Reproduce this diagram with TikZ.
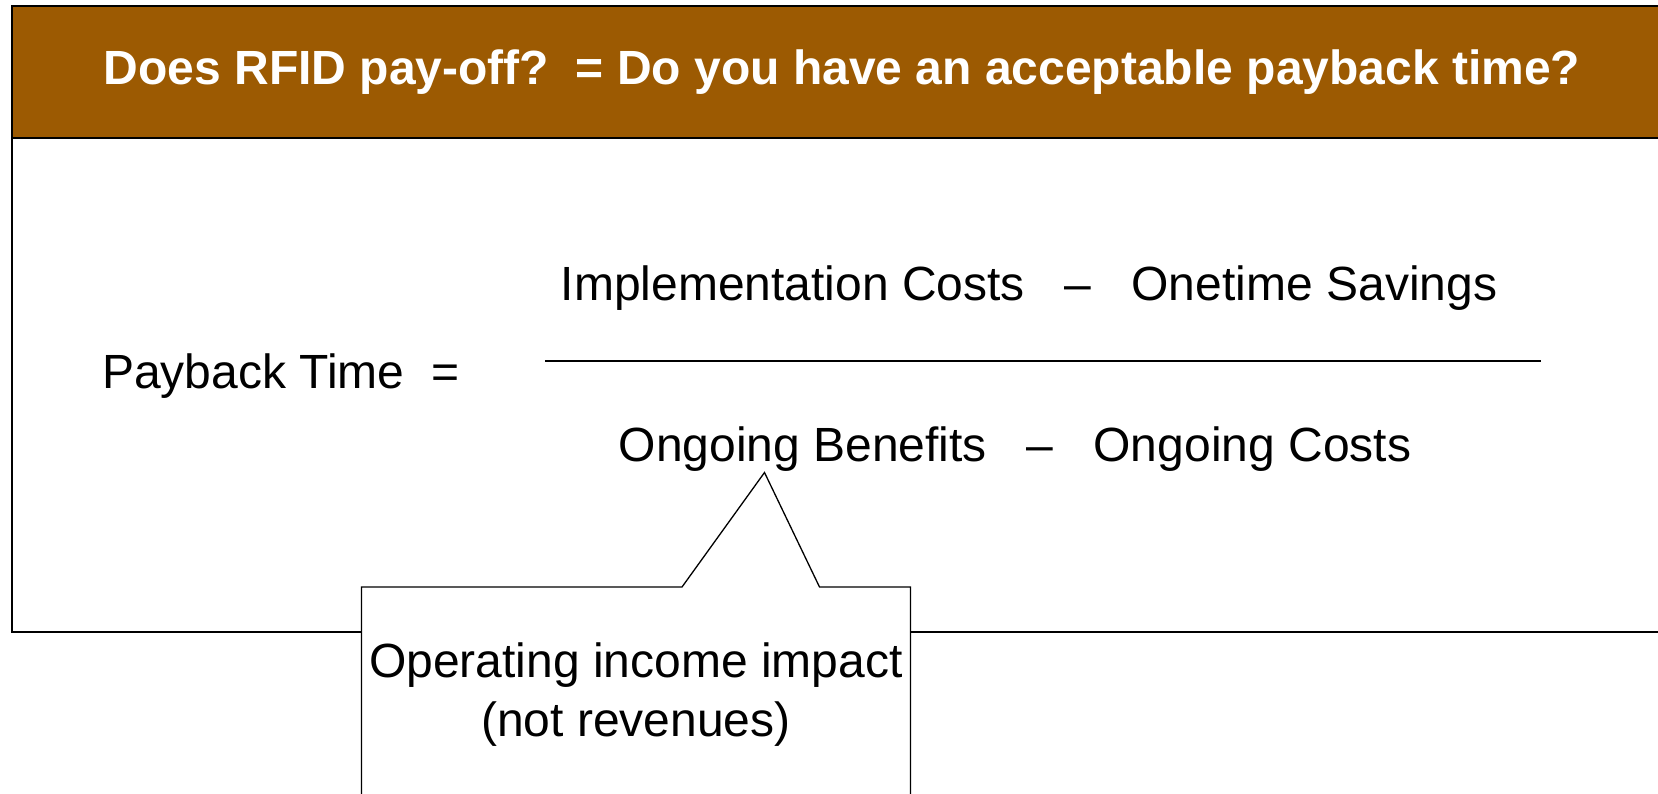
\documentclass[tikz,border=0pt]{standalone}
\usepackage{fontspec}
\setmainfont{Liberation Sans}
\definecolor{headbrown}{RGB}{156,90,2}
\tikzset{
  frameline/.style={draw=black,line width=2pt},
  calloutline/.style={draw=black,line width=1.3pt,fill=white},
  bigtext/.style={inner sep=0pt,font=\fontsize{48}{58}\selectfont},
  titletext/.style={inner sep=0pt,text=white,font=\fontsize{48}{58}\selectfont\bfseries}
}
\begin{document}
\begin{tikzpicture}[x=1pt,y=-1pt]
\useasboundingbox (0,0) rectangle (1658,793);
% main frame
\coordinate (ftr) at (1659,6);
\coordinate (ftl) at (12,6);
\coordinate (fbl) at (12,631.5);
\coordinate (fbr) at (1659,631.5);
\draw[frameline] (ftr) -- (ftl) -- (fbl) -- (fbr);
% header band
\coordinate (hbl) at (12,137.5);
\coordinate (hbr) at (1659,137.5);
\fill[headbrown] (ftl) rectangle (hbr);
\draw[frameline] (ftr) -- (ftl) -- (hbl) -- (hbr);
\node[titletext,anchor=base] (title) at (842,84) {Does RFID pay-off?\ \ = Do you have an acceptable payback time?};
% formula
\node[bigtext,anchor=base west] (lhs) at (102,388) {Payback Time\ \ =};
\node[bigtext,anchor=base] (num) at (1029,300) {Implementation Costs\hspace*{40pt}--\hspace*{40pt}Onetime Savings};
\coordinate (fl) at (545,361);
\coordinate (fr) at (1541,361);
\draw[line width=1.4pt] (fl) -- (fr);
\node[bigtext,anchor=base] (den) at (1015,461) {Ongoing Benefits\hspace*{40pt}--\hspace*{40pt}Ongoing Costs};
% callout
\coordinate (cbl) at (361.5,800);
\coordinate (ctl) at (361.5,587);
\coordinate (pl) at (682,587);
\coordinate (tip) at (764.5,472.5);
\coordinate (pr) at (819.5,587);
\coordinate (ctr) at (910.5,587);
\coordinate (cbr) at (910.5,800);
\draw[calloutline] (cbl) -- (ctl) -- (pl) -- (tip) -- (pr) -- (ctr) -- (cbr);
\node[bigtext,anchor=base,align=center] (note) at (636,736) {Operating income impact\\[1pt](not revenues)};
\end{tikzpicture}
\end{document}
